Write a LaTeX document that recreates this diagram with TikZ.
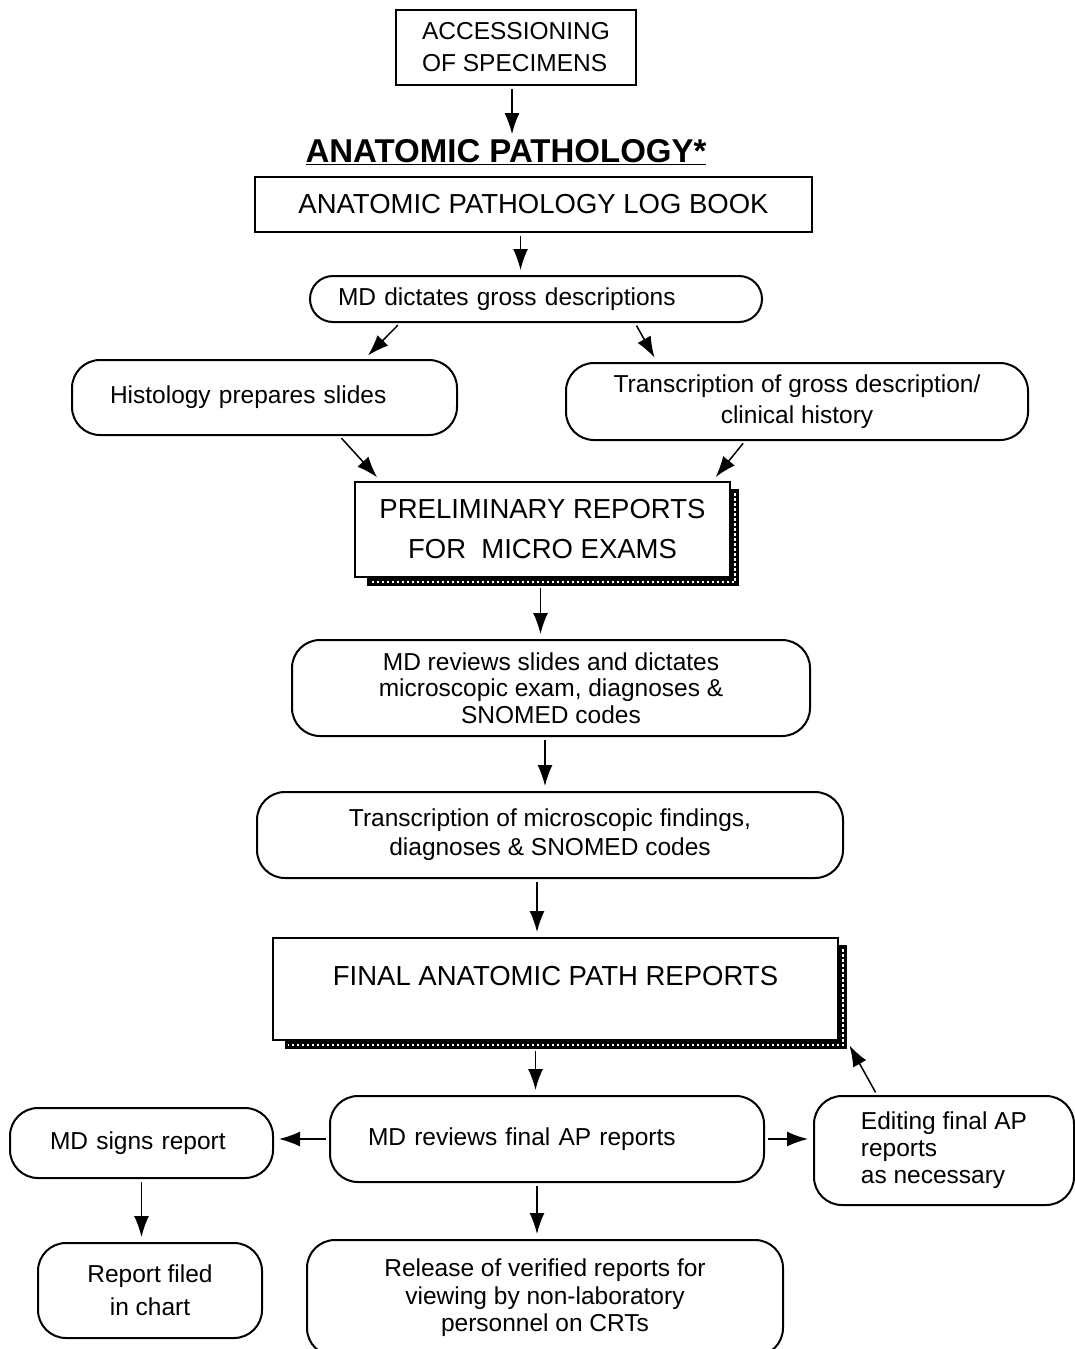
\documentclass[tikz,border=0pt]{standalone}
\usepackage{fontspec}
\setmainfont{Liberation Sans}
\usetikzlibrary{arrows.meta,calc}
\tikzset{
        block/.style = {draw, rectangle, line width=2pt,
            font=\fontsize{27.5}{40}\selectfont, align=center},
        rblock/.style = {draw, rectangle, rounded corners=28pt, line width=2pt,
            font=\fontsize{24.5}{27}\selectfont, align=center},
        arrow/.style = {draw, line width=1.5pt, -{Latex[length=21pt,width=15pt]},
            shorten <=3pt, shorten >=5pt},
    }
\begin{document}
\begin{tikzpicture}[x=1pt,y=1pt,yscale=-1]
\useasboundingbox (0,0) rectangle (1075,1349);

% Boxes
\node[block, minimum width=240pt, minimum height=75pt, font=\fontsize{24.5}{32}\selectfont, align=left] (acc) at (516,47.5) {ACCESSIONING\\OF SPECIMENS};
\node[font=\fontsize{33}{36}\selectfont\bfseries, inner sep=0pt] (title) at (506,152) {\underline{ANATOMIC PATHOLOGY*}};
\node[block, minimum width=557pt, minimum height=55pt] (log) at (533.5,204.5) {ANATOMIC PATHOLOGY LOG BOOK};
\node[rblock, rounded corners=23pt, minimum width=452pt, minimum height=46pt, text width=396pt, align=left] (dict) at (536,299) {MD dictates gross descriptions};
\node[rblock, minimum width=385pt, minimum height=75pt, text width=309pt, align=left] (hist) at (264.5,397.5) {Histology prepares slides};
\node[rblock, minimum width=462pt, minimum height=77pt, font=\fontsize{24.5}{31}\selectfont] (tgross) at (797,401.5) {Transcription of gross description/\\clinical history};
\node[block, minimum width=375pt, minimum height=95pt] (prelim) at (542.5,529.5) {PRELIMINARY REPORTS\\FOR\ \ MICRO EXAMS};
\node[rblock, minimum width=518pt, minimum height=96pt, font=\fontsize{24.5}{26.5}\selectfont] (mdrev) at (551,688) {MD reviews slides and dictates\\microscopic exam, diagnoses \&\\SNOMED codes};
\node[rblock, minimum width=586pt, minimum height=86pt, font=\fontsize{24.5}{29}\selectfont] (tmicro) at (550,835) {Transcription of microscopic findings,\\diagnoses \& SNOMED codes};
\node[block, minimum width=565pt, minimum height=102pt, text height=20pt, text depth=28pt] (final) at (555.5,989) {FINAL ANATOMIC PATH REPORTS};
\node[rblock, minimum width=434pt, minimum height=86pt, text width=358pt, align=left] (mdfin) at (547,1139) {MD reviews final AP reports};
\node[rblock, minimum width=263pt, minimum height=70pt, text width=183pt, align=left] (sign) at (141.5,1143) {MD signs report};
\node[rblock, minimum width=260pt, minimum height=109pt, align=left] (edit) at (944,1150.5) {Editing final AP\\reports\\as necessary};
\node[rblock, minimum width=224pt, minimum height=95pt, font=\fontsize{24.5}{33}\selectfont] (filed) at (150,1290.5) {Report filed\\in chart};
\node[rblock, minimum width=476pt, minimum height=116pt, font=\fontsize{24.5}{27.5}\selectfont] (release) at (545,1298) {Release of verified reports for\\viewing by non-laboratory\\personnel on CRTs};

% hatched shadows
\foreach \n in {prelim,final}{
  \fill ($(\n.north east)+(0,8)$) rectangle ($(\n.south east)+(8,8)$);
  \fill ($(\n.south west)+(13,0)$) rectangle ($(\n.south east)+(8,8)$);
  \draw[white, line width=2.5pt, dash pattern=on 2.5pt off 2.5pt]
    ($(\n.north east)+(4,12)$) |- ($(\n.south west)+(16,4)$);
}

% Arrows
\draw[arrow] ([xshift=-4pt]acc.south) -- ([xshift=-4pt]acc.south |- title.north);
\draw[arrow] ([xshift=-13pt]log.south) -- ([xshift=-13pt]log.south |- dict.north);
\draw[arrow] ([xshift=-136pt]dict.south) -- ([xshift=100pt]hist.north);
\draw[arrow] ([xshift=99pt]dict.south) -- ([xshift=-140pt]tgross.north);
\draw[arrow] ([xshift=75pt]hist.south) -- ([xshift=-162pt]prelim.north);
\draw[arrow] ([xshift=-52pt]tgross.south) -- ([xshift=170pt]prelim.north);
\draw[arrow, shorten <=10pt] ([xshift=-2pt]prelim.south) -- ([xshift=-2pt]prelim.south |- mdrev.north);
\draw[arrow] ([xshift=-6pt]mdrev.south) -- ([xshift=-6pt]mdrev.south |- tmicro.north);
\draw[arrow] ([xshift=-13pt]tmicro.south) -- ([xshift=-13pt]tmicro.south |- final.north);
\draw[arrow, shorten <=10pt] ([xshift=-20pt]final.south) -- ([xshift=-20pt]final.south |- mdfin.north);
\draw[arrow] (mdfin.west) -- (mdfin.west -| sign.east);
\draw[arrow] (mdfin.east) -- (mdfin.east -| edit.west);
\draw[arrow] ([xshift=64pt]edit.north west) -- ([xshift=8pt]final.south east);
\draw[arrow] (sign.south) -- (sign.south |- filed.north);
\draw[arrow] ([xshift=-10pt]mdfin.south) -- ([xshift=-10pt]mdfin.south |- release.north);

\end{tikzpicture}
\end{document}
